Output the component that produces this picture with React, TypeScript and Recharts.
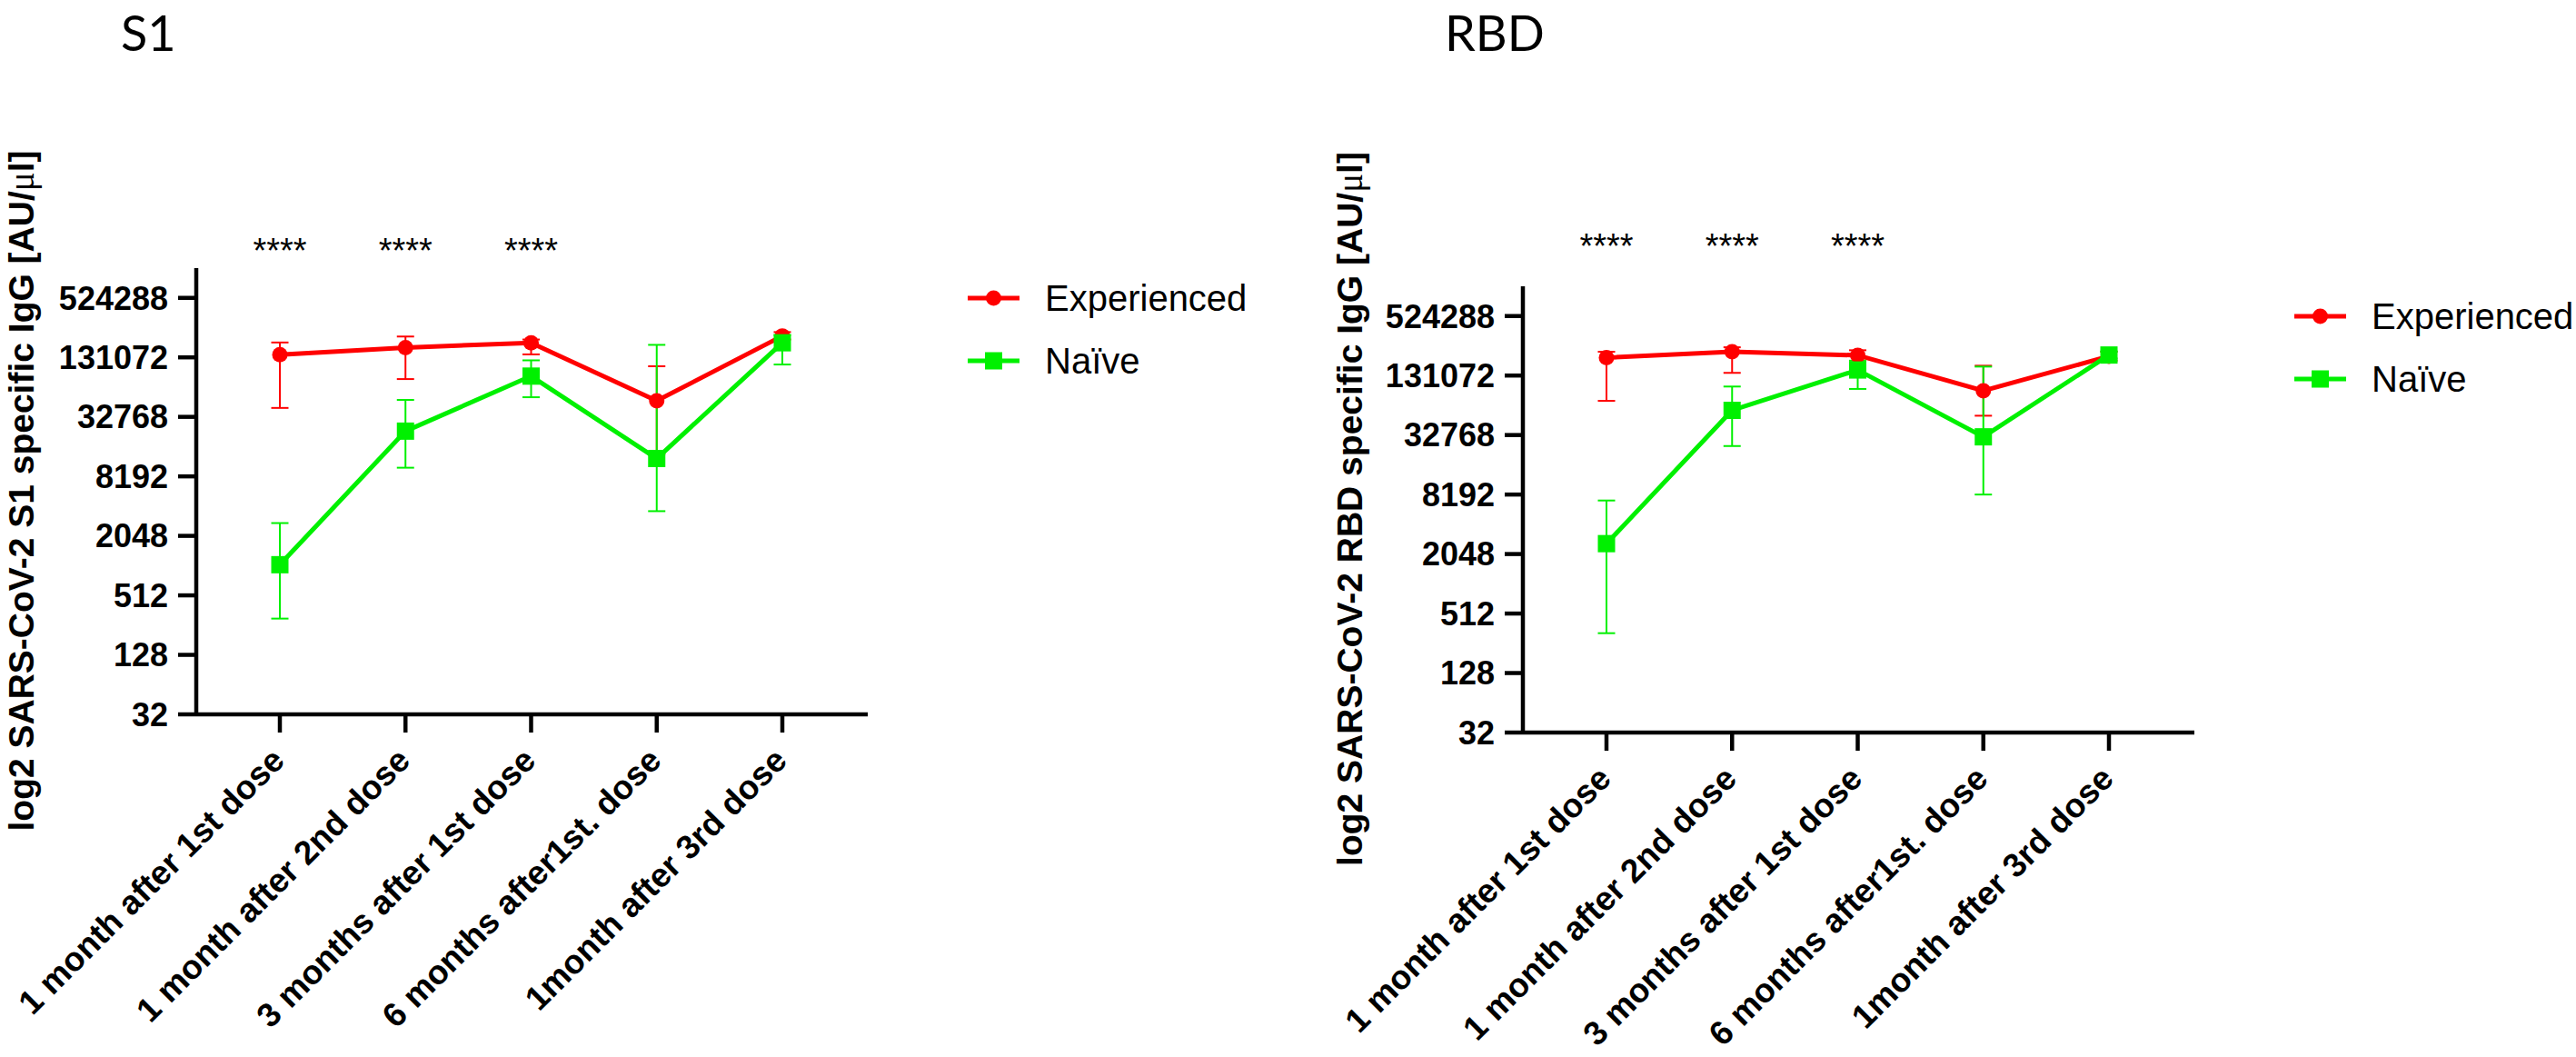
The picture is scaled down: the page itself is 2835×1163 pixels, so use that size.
import React from "react";
import { LineChart, Line, XAxis, YAxis, ErrorBar, Legend, ReferenceDot } from "recharts";

const categories = [
  "1 month after 1st dose",
  "1 month after 2nd dose",
  "3 months after 1st dose",
  "6 months after1st. dose",
  "1month after 3rd dose",
];
const yTicks = [32, 128, 512, 2048, 8192, 32768, 131072, 524288];
const yBottom = 32;
const yTop = 1048576;
const sigLabels = ["****", "****", "****", "", ""];
const seriesNames = ["Experienced", "Naïve"];

const s1ExpMean = [139500, 164800, 184100, 47650, 215900];
const s1ExpLow = [40350, 79040, 140500, 13780, 198700];
const s1ExpHigh = [185400, 213000, 198700, 106500, 236300];
const s1NaiveMean = [1046, 23500, 84700, 12420, 184100];
const s1NaiveLow = [298, 10020, 51780, 3641, 110960];
const s1NaiveHigh = [2759, 48630, 122300, 175400, 220500];

const rbdExpMean = [198700, 228200, 209900, 92000, 205600];
const rbdExpLow = [72700, 139500, 179100, 51400, 185400];
const rbdExpHigh = [228200, 253200, 236300, 164800, 228200];
const rbdNaiveMean = [2610, 58260, 149200, 31430, 211400];
const rbdNaiveLow = [324, 25360, 95940, 8192, 195000];
const rbdNaiveHigh = [7130, 101450, 185400, 161400, 230000];

const build = (
  em: number[], el: number[], eh: number[],
  nm: number[], nl: number[], nh: number[]
) =>
  categories.map((c, i) => ({
    cat: c,
    exp: em[i],
    expErr: [em[i] - el[i], eh[i] - em[i]],
    naive: nm[i],
    naiveErr: [nm[i] - nl[i], nh[i] - nm[i]],
  }));

const s1Data = build(s1ExpMean, s1ExpLow, s1ExpHigh, s1NaiveMean, s1NaiveLow, s1NaiveHigh);
const rbdData = build(rbdExpMean, rbdExpLow, rbdExpHigh, rbdNaiveMean, rbdNaiveLow, rbdNaiveHigh);

// ---------- style ----------
const W = 2835;
const H = 1163;
const FONT = "'Liberation Sans', Arial, Helvetica, sans-serif";
const RED = "#FF0000";
const GREEN = "#00F000";
const PLOT_RIGHT = 955;
const X_AXIS_H = 300;

const AngledTick = (props: any) => {
  const { x, y, payload } = props;
  const ax = x + 7;
  const ay = y + 31;
  return (
    <text
      x={ax}
      y={ay}
      transform={`rotate(-45 ${ax} ${ay})`}
      textAnchor="end"
      fontSize={37}
      fontWeight="bold"
      fontFamily={FONT}
      fill="#000"
    >
      {payload.value}
    </text>
  );
};

const CircleDot = (props: any) => {
  const { cx, cy, index } = props;
  if (cx == null || cy == null) return <g key={`c${index}`} />;
  return <circle key={`c${index}`} cx={cx} cy={cy} r={8.5} fill={RED} stroke="none" />;
};

const SquareDot = (props: any) => {
  const { cx, cy, index } = props;
  if (cx == null || cy == null) return <g key={`s${index}`} />;
  return <rect key={`s${index}`} x={cx - 9.5} y={cy - 9.5} width={19} height={19} fill={GREEN} stroke="none" />;
};

const LegendContent = (props: any) => {
  const payload = props.payload || [];
  return (
    <div>
      {payload.map((item: any, i: number) => (
        <div key={i} style={{ display: "flex", alignItems: "center", height: 69 }}>
          <svg width={57} height={24} style={{ display: "block" }}>
            <line x1={0} y1={12} x2={57} y2={12} stroke={item.color} strokeWidth={5} />
            {i === 0 ? (
              <circle cx={28.5} cy={12} r={8.5} fill={item.color} />
            ) : (
              <rect x={19} y={2.5} width={19} height={19} fill={item.color} />
            )}
          </svg>
          <span style={{ marginLeft: 28, fontSize: 40, fontFamily: FONT, color: "#000", lineHeight: "69px", whiteSpace: "nowrap" }}>
            {item.value}
          </span>
        </div>
      ))}
    </div>
  );
};

type PanelProps = {
  left: number;
  width: number;
  plotTop: number;
  axisY: number;
  data: any[];
  sigDy: number;
};

const Panel = ({ left, width, plotTop, axisY, data, sigDy }: PanelProps) => (
  <div style={{ position: "absolute", left, top: 0, width, height: H }}>
    <LineChart
      width={width}
      height={H}
      data={data}
      margin={{ top: plotTop, right: width - PLOT_RIGHT, bottom: H - axisY - X_AXIS_H, left: 0 }}
    >
      <XAxis
        dataKey="cat"
        type="category"
        scale="point"
        padding={{ left: 92, right: 94 }}
        interval={0}
        height={X_AXIS_H}
        tickSize={20}
        axisLine={{ stroke: "#000", strokeWidth: 4.5 }}
        tickLine={{ stroke: "#000", strokeWidth: 4.5 }}
        tick={<AngledTick />}
      />
      <YAxis
        type="number"
        scale="log"
        domain={[yBottom, yTop]}
        allowDataOverflow
        ticks={yTicks}
        interval={0}
        width={216}
        tickSize={20}
        tickMargin={11}
        axisLine={{ stroke: "#000", strokeWidth: 4.5 }}
        tickLine={{ stroke: "#000", strokeWidth: 4.5 }}
        tick={{ fontSize: 36, fontWeight: "bold", fill: "#000", fontFamily: FONT }}
        tickFormatter={(v: number) => String(v)}
      />
      <Legend
        layout="vertical"
        align="center"
        verticalAlign="middle"
        content={<LegendContent />}
        wrapperStyle={{ left: 1065, top: plotTop + 33 - 34.5, width: 320 }}
      />
      <Line
        name={seriesNames[0]}
        dataKey="exp"
        type="linear"
        stroke={RED}
        strokeWidth={5}
        dot={CircleDot}
        activeDot={false}
        isAnimationActive={false}
      >
        <ErrorBar dataKey="expErr" direction="y" width={9.5} stroke={RED} strokeWidth={2} isAnimationActive={false} />
      </Line>
      <Line
        name={seriesNames[1]}
        dataKey="naive"
        type="linear"
        stroke={GREEN}
        strokeWidth={5}
        dot={SquareDot}
        activeDot={false}
        isAnimationActive={false}
      >
        <ErrorBar dataKey="naiveErr" direction="y" width={9.5} stroke={GREEN} strokeWidth={2} isAnimationActive={false} />
      </Line>
      {categories.map((c, i) =>
        sigLabels[i] ? (
          <ReferenceDot
            key={c}
            x={c}
            y={yTop}
            r={0}
            ifOverflow="visible"
            shape={(p: any) => (
              <text x={p.cx} y={p.cy + sigDy} textAnchor="middle" fontSize={38} fontFamily={FONT} fill="#000">
                {sigLabels[i]}
              </text>
            )}
          />
        ) : null
      )}
    </LineChart>
  </div>
);

const YLabel = ({ x, y, name }: { x: number; y: number; name: string }) => (
  <text
    transform={`translate(${x} ${y}) rotate(-90)`}
    textAnchor="middle"
    dominantBaseline="central"
    fontSize={39}
    fontWeight="bold"
    fontFamily={FONT}
    fill="#000"
  >
    {`log2 SARS-CoV-2 ${name} specific IgG [AU/`}
    <tspan fontFamily="'Liberation Serif', 'DejaVu Serif', serif" fontWeight="normal">μ</tspan>
    {"l]"}
  </text>
);

export default function App() {
  return (
    <div style={{ position: "absolute", left: 0, top: 0, width: W, height: H, background: "#fff", overflow: "hidden" }}>
      <Panel left={0} width={1417} plotTop={295} axisY={786} data={s1Data} sigDy={-6} />
      <Panel left={1460} width={1375} plotTop={315} axisY={806} data={rbdData} sigDy={-31} />
      <svg width={W} height={H} style={{ position: "absolute", left: 0, top: 0, pointerEvents: "none" }}>
        <text x={133} y={56} fontFamily="Lato, 'Open Sans', sans-serif" fontSize={54} fill="#000">S1</text>
        <text x={1590} y={56} fontFamily="Lato, 'Open Sans', sans-serif" fontSize={54} fill="#000">RBD</text>
        <YLabel x={23} y={540} name="S1" />
        <YLabel x={1485} y={560} name="RBD" />
      </svg>
    </div>
  );
}
